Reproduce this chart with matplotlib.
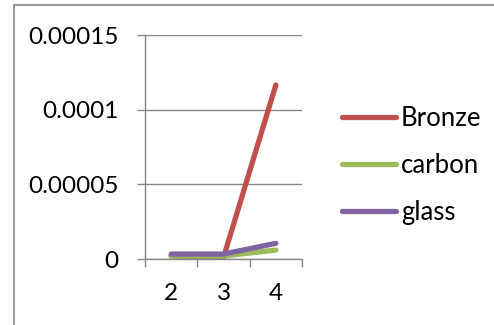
import matplotlib.pyplot as plt
from matplotlib.patches import Rectangle

categories = ["2", "3", "4"]
bronze = [2e-6, 1e-6, 1.165e-4]
carbon = [2e-6, 2e-6, 6e-6]
glass = [3.3e-6, 3.3e-6, 1.05e-5]

y_ticks = [0, 0.00005, 0.0001, 0.00015]
y_labels = ["0", "0.00005", "0.0001", "0.00015"]

series = [
    ("Bronze", bronze, "#C0504D"),
    ("carbon", carbon, "#9BBB59"),
    ("glass", glass, "#8064A2"),
]

plt.rcParams["font.family"] = ["Lato", "DejaVu Sans"]
W, H = 494, 325
fig = plt.figure(figsize=(W / 100, H / 100), dpi=100)

# chart frame (runs off the right and bottom edges)
fig.patches.append(Rectangle((14 / W, -0.1), 1.2, (H - 5) / H + 0.1,
                             transform=fig.transFigure, fill=False,
                             edgecolor="#868686", lw=1.2))

ax = fig.add_axes([145 / W, (H - 259) / H, (302 - 145) / W, (259 - 35) / H])
grid_c = "#868686"

x = list(range(len(categories)))
for name, vals, col in series:
    ax.plot(x, vals, color=col, lw=3.8, solid_capstyle="round", label=name)

ax.set_xlim(-0.5, len(categories) - 0.5)
ax.set_ylim(0, 0.00015)
ax.set_yticks(y_ticks)
ax.set_yticklabels(y_labels)
ax.set_xticks([i - 0.5 for i in range(len(categories) + 1)])
ax.set_xticklabels([])
ax.set_xticks(x, minor=True)
ax.set_xticklabels(categories, minor=True)

ax.yaxis.grid(True, color=grid_c, lw=1.0)
ax.set_axisbelow(True)
for s in ["top", "right"]:
    ax.spines[s].set_visible(False)
for s in ["left", "bottom"]:
    ax.spines[s].set_color(grid_c)
    ax.spines[s].set_linewidth(1.0)

ax.tick_params(axis="y", length=6, width=1.0, color=grid_c, pad=13, labelsize=17.5)
ax.tick_params(axis="x", which="major", length=6, width=1.0, color=grid_c)
ax.tick_params(axis="x", which="minor", length=0, pad=17, labelsize=17.5)

fig.legend(loc="center left", bbox_to_anchor=(342 / W, (H - 165.5) / H),
           frameon=False, fontsize=18.5, handlelength=2.1, handletextpad=0.2,
           labelspacing=0.85, borderpad=0, borderaxespad=0)

fig.savefig("out.png", dpi=100)
